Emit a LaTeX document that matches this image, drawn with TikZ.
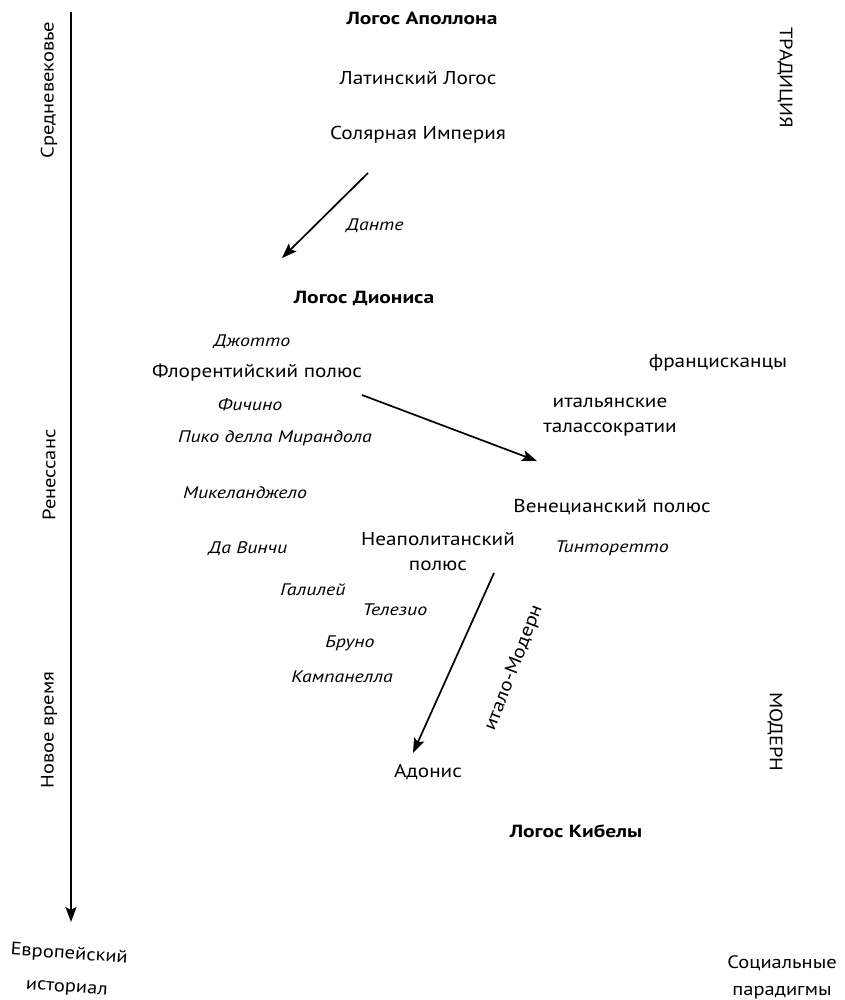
\documentclass[tikz,border=0pt]{standalone}
\usepackage{fontspec}
\setmainfont{PT Sans}[FakeStretch=1.14]
\newfontfamily\boldface{PT Sans}[FakeStretch=1.22]
\newfontfamily\namesface{PT Sans}[FakeStretch=1.19]
\usetikzlibrary{arrows.meta}
\begin{document}
\begin{tikzpicture}[x=1pt,y=-1pt,
  lbl/.style={font=\fontsize{18.6}{25}\selectfont, align=center, inner sep=0pt},
  logos/.style={font=\boldface\bfseries\fontsize{17.6}{20}\selectfont, inner sep=0pt},
  person/.style={font=\namesface\itshape\fontsize{16.7}{20}\selectfont, inner sep=0pt},
  period/.style={font=\fontsize{18}{20}\selectfont, rotate=90, inner sep=0pt},
  paradigm/.style={font=\fontsize{18}{20}\selectfont, rotate=-90, inner sep=0pt},
  flow/.style={line width=1.7pt, -{Stealth[length=15pt,width=11pt,inset=3pt]}}]
\useasboundingbox (0,0) rectangle (844,1000);

% time axis
\coordinate (axtop) at (71,12);
\coordinate (axend) at (71,922);
\draw[flow] (axtop) -- (axend);
\node[period] (medieval) at (49,90) {Средневековье};
\node[period] (renaiss) at (49,475) {Ренессанс};
\node[period] (newtime) at (49,730) {Новое время};
\node[lbl, font=\fontsize{18}{33}\selectfont, rotate=-4] (histor) at (68,971) {Европейский\\историал};

% paradigms
\node[paradigm] (trad) at (785,78) {ТРАДИЦИЯ};
\node[paradigm] (modern) at (775,732) {МОДЕРН};
\node[lbl, font=\fontsize{18}{27}\selectfont] (social) at (782,977) {Социальные\\парадигмы};

% logoi and poles
\node[logos] (apollo) at (422,18) {Логос Аполлона};
\node[lbl] (latin) at (418,78) {Латинский Логос};
\node[lbl] (solar) at (418,135) {Солярная Империя};
\node[logos] (dionys) at (364,298) {Логос Диониса};
\node[lbl] (floren) at (257,373) {Флорентийский полюс};
\node[lbl] (francis) at (718,363) {францисканцы};
\node[lbl] (thalas) at (610,417) {итальянские\\талассократии};
\node[lbl] (venice) at (612,507) {Венецианский полюс};
\node[lbl] (naples) at (438,552) {Неаполитанский\\полюс};
\node[lbl] (adonis) at (428,772) {Адонис};
\node[logos] (cybele) at (576,831) {Логос Кибелы};

% names
\node[person] (dante) at (375,226) {Данте};
\node[person] (giotto) at (252,342) {Джотто};
\node[person] (ficino) at (250,405) {Фичино};
\node[person] (pico) at (275,438) {Пико делла Мирандола};
\node[person] (michel) at (245,493) {Микеланджело};
\node[person] (vinci) at (248,549) {Да Винчи};
\node[person] (tintor) at (612,548) {Тинторетто};
\node[person] (galilei) at (313,590) {Галилей};
\node[person] (telesio) at (395,610) {Телезио};
\node[person] (bruno) at (350,643) {Бруно};
\node[person] (campan) at (342,677) {Кампанелла};
\node[lbl, rotate=69] (italmod) at (514,668) {итало-Модерн};

% transitions
\coordinate (d1) at (368,173);
\coordinate (d2) at (282,258);
\draw[flow] (d1) -- (d2);
\coordinate (f1) at (362,395);
\coordinate (f2) at (537,461);
\draw[flow] (f1) -- (f2);
\coordinate (n1) at (494,573);
\coordinate (n2) at (413,753);
\draw[flow] (n1) -- (n2);
\end{tikzpicture}
\end{document}
